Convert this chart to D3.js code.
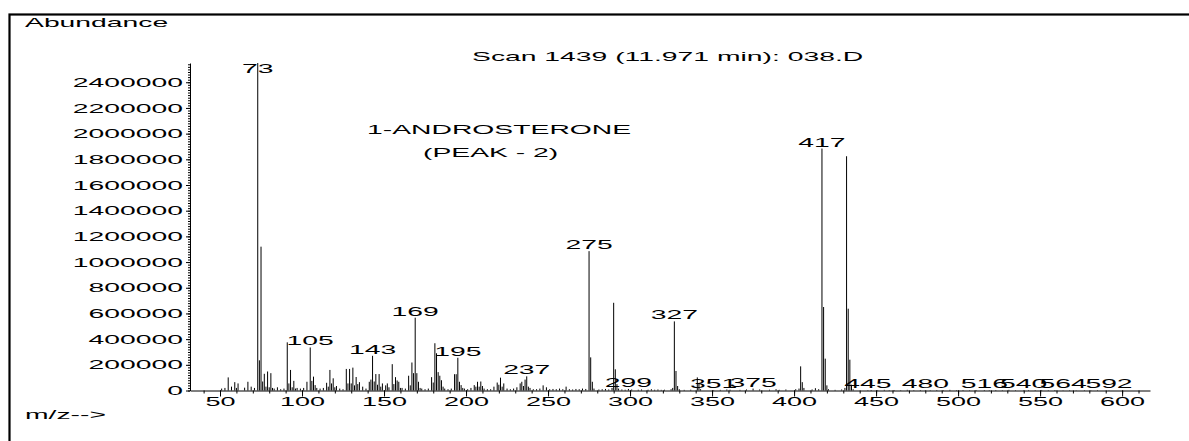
<!DOCTYPE html>
<html>
<head>
<meta charset="utf-8">
<script src="https://cdnjs.cloudflare.com/ajax/libs/d3/7.8.5/d3.min.js"></script>
<style>
  html, body { margin: 0; padding: 0; background: #fff; }
  svg { display: block; }
  text { font-family: "Liberation Sans", Arial, sans-serif; fill: #000; }
</style>
</head>
<body>
<svg id="chart"></svg>
<script>
// Declaring all constants

const svgWidth = 1189,
    svgHeight = 441;

// axis extent in pixels
const plot = {left: 190, right: 1150, top: 63, bottom: 390.5};

const textScale = 2.36;   // the original print is stretched horizontally

// spectrum: m/z and abundance
const peakMz = [51, 53, 55, 57, 59, 60, 61, 65, 67, 69, 71,
    73, 74, 75, 76, 77, 78, 79, 80, 81, 82, 83, 85, 87, 89,
    91, 92, 93, 94, 95, 96, 97, 99, 101, 103, 105, 106, 107, 108, 109, 111, 113,
    115, 116, 117, 118, 119, 120, 121, 123, 125, 127, 128, 129, 130, 131, 132, 133, 134, 135, 137, 139,
    141, 142, 143, 144, 145, 146, 147, 148, 149, 151, 152, 153, 155, 156, 157, 158, 159, 160, 161, 163,
    165, 166, 167, 168, 169, 170, 171, 172, 173, 175, 177, 179, 180, 181, 182, 183, 184, 185, 186, 187, 189,
    191, 193, 194, 195, 196, 197, 198, 199, 201, 203, 205, 206, 207, 208, 209, 210, 211, 213, 215,
    217, 219, 220, 221, 222, 223, 225, 227, 229, 231, 233, 234, 235, 236, 237, 238, 239, 241, 243, 245,
    247, 249, 251, 253, 255, 257, 259, 261, 263, 265, 267, 269, 271, 273,
    275, 276, 277, 278, 281, 283, 285, 287, 289, 290, 291, 292, 293, 295, 297, 299, 301, 305, 307,
    311, 313, 315, 317, 319, 321, 325, 326, 327, 328, 329, 330, 333, 337, 341, 342, 343,
    351, 355, 359, 361, 367, 371, 375, 379, 385, 389, 391, 395, 401, 403, 404, 405, 406,
    411, 413, 415, 417, 418, 419, 420, 421, 425, 429, 431, 432, 433, 434, 435, 436,
    445, 480, 516, 540, 564, 592];

const peakAbundance = [15000, 20000, 102000, 30000, 65000, 20000, 55000, 22000, 68000, 30000, 20000,
    2550000, 235000, 1120000, 70000, 130000, 30000, 148000, 25000, 135000, 20000, 15000, 25000, 10000, 15000,
    375000, 55000, 160000, 25000, 75000, 15000, 20000, 15000, 20000, 68000, 335000, 75000, 108000, 42000, 20000, 15000, 20000,
    60000, 30000, 160000, 55000, 95000, 25000, 35000, 15000, 10000, 168000, 55000, 168000, 55000, 178000, 40000, 105000, 50000, 65000, 30000, 15000,
    68000, 85000, 270000, 70000, 128000, 45000, 128000, 30000, 55000, 40000, 55000, 25000, 205000, 50000, 104000, 78000, 68000, 20000, 20000, 15000,
    115000, 40000, 218000, 135000, 567000, 135000, 68000, 20000, 15000, 10000, 15000, 104000, 62000, 368000, 290000, 143000, 115000, 80000, 30000, 15000, 10000,
    15000, 127000, 127000, 255000, 68000, 42000, 20000, 15000, 10000, 20000, 42000, 30000, 68000, 30000, 70000, 35000, 15000, 10000, 10000,
    30000, 62000, 45000, 100000, 30000, 55000, 15000, 10000, 15000, 25000, 55000, 68000, 35000, 85000, 110000, 30000, 20000, 10000, 10000, 15000,
    40000, 25000, 10000, 12000, 10000, 15000, 10000, 30000, 10000, 8000, 12000, 10000, 15000, 12000,
    1085000, 258000, 68000, 15000, 8000, 10000, 12000, 8000, 20000, 683000, 165000, 50000, 15000, 8000, 6000, 12000, 8000, 6000, 8000,
    6000, 10000, 6000, 8000, 5000, 6000, 10000, 20000, 538000, 152000, 35000, 10000, 5000, 6000, 102000, 50000, 10000,
    3000, 5000, 8000, 6000, 5000, 8000, 15000, 8000, 6000, 10000, 5000, 8000, 10000, 15000, 188000, 65000, 20000,
    8000, 18000, 10000, 1884000, 650000, 248000, 40000, 10000, 5000, 8000, 20000, 1824000, 637000, 240000, 45000, 10000,
    3000, 2000, 4000, 2000, 2000, 2000];

// tiny baseline peaks at the high mass end
const noiseMz = [447, 451, 455, 458, 461, 465, 469, 473, 477, 483, 487, 491, 495, 499, 503, 507, 511,
    519, 523, 527, 531, 535, 543, 547, 551, 555, 559, 568, 572, 577, 581, 585];
const noiseAbundance = [4000, 3000, 5000, 3000, 4000, 3000, 5000, 3000, 4000, 3000, 4000, 3000, 5000, 3000, 4000, 3000, 4000,
    3000, 4000, 3000, 5000, 3000, 4000, 3000, 4000, 3000, 4000, 3000, 2000, 3000, 2000, 3000];

// peaks that carry an m/z label
const labelMz = [73, 105, 143, 169, 195, 237, 275, 299, 327, 351, 375, 417, 445, 480, 516, 540, 564, 592];

const yTicks = d3.range(0, 2400001, 200000);
const yMinorTicks = d3.range(0, 2540001, 20000);
const xTicks = d3.range(50, 601, 50);
const xMinorTicks = d3.range(40, 611, 10);

// scales
var xScale = d3.scaleLinear().domain([31.7, 617]).range([plot.left, plot.right]);
var yScale = d3.scaleLinear().domain([0, 2550000]).range([plot.bottom, plot.top]);

const chart = d3.select('#chart')
    .attr("width", svgWidth)
    .attr("height", svgHeight);

// frame
chart.append("rect")
    .attr("x", 9.5).attr("y", 14.5)
    .attr("width", svgWidth + 20).attr("height", svgHeight + 20)
    .attr("fill", "none")
    .attr("stroke", "#000")
    .attr("stroke-width", 2.2);

function stretchedText(x, y, str, size, anchor) {
    chart.append("g")
        .attr("transform", "translate(" + x + "," + y + ") scale(" + textScale + ",1)")
        .append("text")
        .attr("text-anchor", anchor || "start")
        .style("font-size", size + "px")
        .text(str);
}

// y axis
var yMinor = chart.append("g")
    .attr("transform", "translate(" + plot.left + ",0)")
    .call(d3.axisLeft(yScale).tickValues(yMinorTicks).tickSize(2).tickSizeOuter(0).tickFormat(""));
yMinor.select(".domain").remove();

var yAxis = chart.append("g")
    .attr("transform", "translate(" + plot.left + ",0)")
    .call(d3.axisLeft(yScale).tickValues(yTicks).tickSize(4).tickSizeOuter(0).tickFormat(d3.format("d")));
yAxis.selectAll("text")
    .attr("x", -7 / textScale)
    .attr("dy", "0.34em")
    .attr("transform", "scale(" + textScale + ",1)")
    .style("font-size", "12px")
    .style("font-family", null);

// x axis
var xMinor = chart.append("g")
    .attr("transform", "translate(0," + plot.bottom + ")")
    .call(d3.axisBottom(xScale).tickValues(xMinorTicks).tickSize(3).tickSizeOuter(0).tickFormat(""));
xMinor.select(".domain").remove();

var xAxis = chart.append("g")
    .attr("transform", "translate(0," + plot.bottom + ")")
    .call(d3.axisBottom(xScale).tickValues(xTicks).tickSize(6).tickSizeOuter(0).tickFormat(d3.format("d")));
xAxis.selectAll("text")
    .attr("y", 15.5)
    .attr("dy", 0)
    .attr("transform", "scale(2.25,1)")
    .style("font-size", "12px")
    .style("font-family", null);

chart.selectAll(".domain, .tick line").attr("stroke", "#000");
chart.selectAll(".tick text").attr("fill", "#000");

// peaks
var peaks = peakMz.map(function(d, i) { return {mz: d, value: peakAbundance[i]}; })
    .concat(noiseMz.map(function(d, i) { return {mz: d, value: noiseAbundance[i]}; }));

chart.append("g").selectAll("line")
    .data(peaks)
    .enter()
    .append("line")
    .attr("x1", function(d) { return xScale(d.mz); })
    .attr("x2", function(d) { return xScale(d.mz); })
    .attr("y1", yScale(0))
    .attr("y2", function(d) { return yScale(d.value); })
    .attr("stroke", "#000")
    .attr("stroke-width", 1);

// peak labels
labelMz.forEach(function(m) {
    var v = peakAbundance[peakMz.indexOf(m)];
    var ly = Math.max(yScale(v) - 2, plot.top + 10);
    stretchedText(xScale(m), ly, String(m), 12, "middle");
});

// titles
stretchedText(25, 27, "Abundance", 12);
stretchedText(472, 61, "Scan 1439 (11.971 min): 038.D", 12);
stretchedText(367, 134, "1-ANDROSTERONE", 12);
stretchedText(423, 157, "(PEAK - 2)", 12);
stretchedText(25, 419, "m/z-->", 12);
</script>
</body>
</html>
